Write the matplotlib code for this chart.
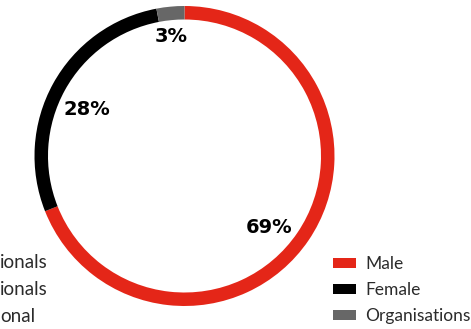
import matplotlib.pyplot as plt
from matplotlib.patches import Patch

# data
groups = ["Male", "Female", "Organisations"]
shares = [69, 28, 3]
colors = ["#E42618", "#000000", "#676767"]
left_labels = ["ionals", "ionals", "onal"]   # partly cut off at the left edge

W, H = 471, 329
fig = plt.figure(figsize=(W / 100, H / 100), dpi=100)

# donut, centre (184.5, 156) px, radius 150 px
cx, cy, r = 184.5, 156, 150
ax = fig.add_axes([(cx - r) / W, (H - cy - r) / H, 2 * r / W, 2 * r / H])
wedges, texts, autotexts = ax.pie(
    shares, colors=colors, startangle=90, counterclock=False,
    wedgeprops=dict(width=0.09, linewidth=0),
    autopct="%d%%", pctdistance=0.74,
    textprops=dict(fontsize=14, fontweight="bold", color="black"))
ax.set_xlim(-1, 1)
ax.set_ylim(-1, 1)
ax.set_aspect("equal")

# small label nudges to sit like the original
nudges = [(-0.05, -0.06), (0.0, -0.045), (-0.02, 0.06)]
for t, (dx, dy) in zip(autotexts, nudges):
    x, y = t.get_position()
    t.set_position((x + dx, y + dy))

handles = [Patch(facecolor=c, edgecolor="none") for c in colors]
fig.legend(handles, groups, loc="upper left", frameon=False,
           bbox_to_anchor=(328 / W, 1 - 251 / H),
           prop=dict(family="Lato", size=12.5), labelcolor="#2b2b2b",
           handlelength=1.3, handleheight=0.55, handletextpad=0.55,
           labelspacing=0.58, borderaxespad=0, borderpad=0.3)

for i, t in enumerate(left_labels):
    fig.text(0, 1 - (263 + 26.5 * i) / H, t, ha="left", va="center",
             fontsize=13.5, family="Lato", color="#2b2b2b")

fig.savefig("out.png", dpi=100)
